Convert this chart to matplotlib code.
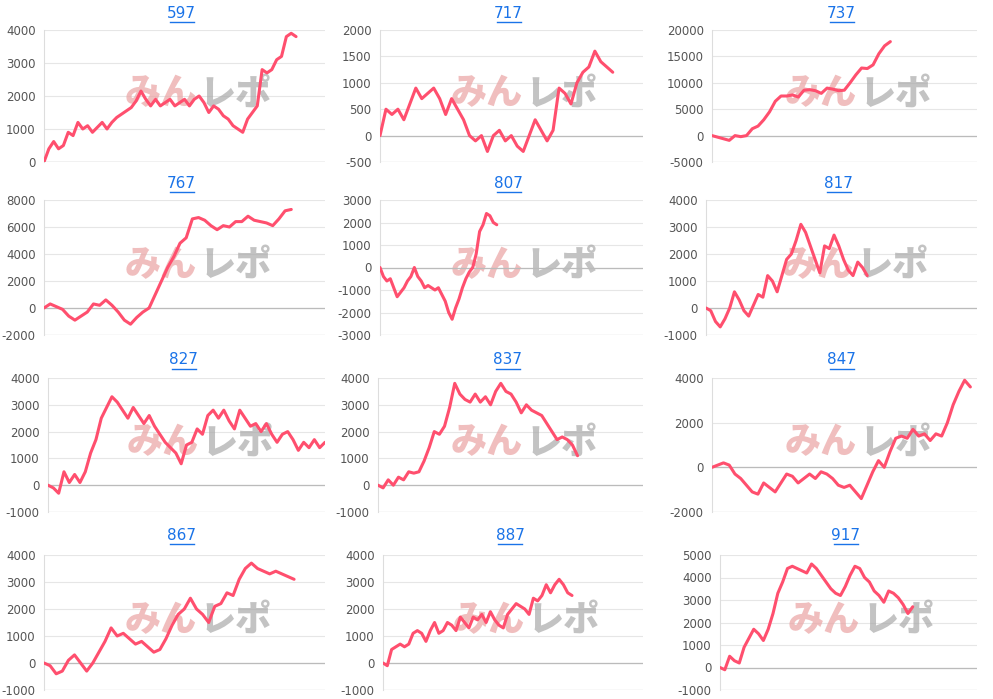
import matplotlib
matplotlib.use("Agg")
import matplotlib.pyplot as plt
from matplotlib.lines import Line2D

titles = ["597", "717", "737", "767", "807", "817", "827", "837", "847", "867", "887", "917"]

s597 = [0, 400, 620, 400, 500, 900, 800, 1200, 1000, 1100, 900, 1050, 1200, 1000, 1200, 1350, 1450, 1550,
        1650, 1850, 2150, 1900, 1700, 1900, 1700, 1800, 1900, 1700, 1800, 1900, 1700, 1900, 2000, 1800, 1500,
        1700, 1600, 1400, 1300, 1100, 1000, 900, 1300, 1500, 1700, 2800, 2700, 2800, 3100, 3200, 3800, 3900, 3800]
s717 = [0, 500, 400, 500, 300, 600, 900, 700, 800, 900, 700, 400, 700, 500, 300, 0, -100, 0, -300, 0, 100,
        -100, 0, -200, -300, 0, 300, 100, -100, 100, 900, 800, 600, 1000, 1200, 1300, 1600, 1400, 1300, 1200]
s737 = [0, -300, -600, -900, 0, -200, 0, 1300, 1800, 3000, 4500, 6500, 7500, 7500, 7700, 7300, 8600, 8700,
        8500, 8000, 9000, 8800, 8500, 8600, 10000, 11500, 12800, 12700, 13400, 15500, 17000, 17800]
s767 = [0, 300, 100, -100, -600, -900, -600, -300, 300, 200, 600, 200, -300, -900, -1200, -700, -300, 0,
        1000, 2000, 3000, 3800, 4800, 5200, 6600, 6700, 6500, 6100, 5800, 6100, 6000, 6400, 6400, 6800, 6500,
        6400, 6300, 6100, 6600, 7200, 7300]
s807 = [0, -400, -600, -500, -900, -1300, -1100, -900, -600, -400, 0, -400, -600, -900, -800, -900, -1000,
        -900, -1200, -1500, -2000, -2300, -1800, -1400, -900, -500, -200, 0, 600, 1600, 1900, 2400, 2300, 2000, 1900]
s817 = [0, -100, -500, -700, -400, 0, 600, 300, -100, -300, 100, 500, 400, 1200, 1000, 600, 1200, 1800, 2000,
        2500, 3100, 2800, 2300, 1800, 1300, 2300, 2200, 2700, 2300, 1800, 1400, 1200, 1700, 1500, 1200]
s827 = [0, -100, -300, 500, 100, 400, 100, 500, 1200, 1700, 2500, 2900, 3300, 3100, 2800, 2500, 2900, 2600,
        2300, 2600, 2200, 1900, 1600, 1400, 1200, 800, 1500, 1600, 2100, 1900, 2600, 2800, 2500, 2800, 2400,
        2100, 2800, 2500, 2200, 2300, 2000, 2300, 1900, 1600, 1900, 2000, 1700, 1300, 1600, 1400, 1700, 1400, 1600]
s837 = [0, -100, 200, 0, 300, 200, 500, 450, 500, 900, 1400, 2000, 1900, 2200, 2900, 3800, 3400, 3200, 3100,
        3400, 3100, 3300, 3000, 3500, 3800, 3500, 3400, 3100, 2700, 3000, 2800, 2700, 2600, 2300, 2000, 1700,
        1800, 1700, 1500, 1100]
s847 = [0, 100, 200, 100, -300, -500, -800, -1100, -1200, -700, -900, -1100, -700, -300, -400, -700, -500,
        -300, -500, -200, -300, -500, -800, -900, -800, -1100, -1400, -800, -200, 300, 0, 700, 1300, 1400, 1300,
        1700, 1400, 1500, 1200, 1500, 1400, 2000, 2800, 3400, 3900, 3600]
s867 = [0, -100, -400, -300, 100, 300, 0, -300, 0, 400, 800, 1300, 1000, 1100, 900, 700, 800, 600, 400, 500,
        900, 1400, 1800, 2000, 2400, 2000, 1800, 1500, 2100, 2200, 2600, 2500, 3100, 3500, 3700, 3500, 3400,
        3300, 3400, 3300, 3200, 3100]
s887 = [0, -100, 500, 600, 700, 600, 700, 1100, 1200, 1100, 800, 1200, 1500, 1100, 1200, 1500, 1400, 1200,
        1700, 1500, 1300, 1700, 1600, 1800, 1500, 1900, 1600, 1400, 1300, 1800, 2000, 2200, 2100, 2000, 1800,
        2400, 2300, 2500, 2900, 2600, 2900, 3100, 2900, 2600, 2500]
s917 = [0, -100, 500, 300, 200, 900, 1300, 1700, 1500, 1200, 1700, 2400, 3300, 3800, 4400, 4500, 4400, 4300,
        4200, 4600, 4400, 4100, 3800, 3500, 3300, 3200, 3600, 4100, 4500, 4400, 4000, 3800, 3400, 3200, 2900,
        3400, 3300, 3100, 2800, 2400, 2700]

series = [s597, s717, s737, s767, s807, s817, s827, s837, s847, s867, s887, s917]
end_frac = [0.897, 0.885, 0.673, 0.88, 0.444, 0.595, 1.0, 0.753, 0.975, 0.89, 0.727, 0.75]
ylims = [(0, 4000, 1000), (-500, 2000, 500), (-5000, 20000, 5000), (-2000, 8000, 2000),
         (-3000, 3000, 1000), (-1000, 4000, 1000), (-1000, 4000, 1000), (-1000, 4000, 1000),
         (-2000, 4000, 2000), (-1000, 4000, 1000), (-1000, 4000, 1000), (-1000, 5000, 1000)]

W, H = 993, 699
fig = plt.figure(figsize=(W / 100, H / 100), dpi=100)
col_lr = [(44, 325), (380, 643), (712, 977)]
lefts = [[44, 380, 712], [44, 380, 706], [48, 378, 712], [44, 383, 720]]
row_tb = [(30, 162), (200, 335), (378, 512), (555, 690)]
title_y = [13, 183, 360, 535]

for i, (t, s) in enumerate(zip(titles, series)):
    r, c = divmod(i, 3)
    l = lefts[r][c]
    rr = col_lr[c][1]
    top, bot = row_tb[r]
    ax = fig.add_axes([l / W, 1 - bot / H, (rr - l) / W, (bot - top) / H])
    x = list(range(len(s)))
    ax.plot(x, s, color="#ff4f6e", lw=2.2, solid_joinstyle="round", solid_capstyle="round", zorder=3)
    ax.set_xlim(0, (len(s) - 1) / end_frac[i])
    lo, hi, st = ylims[i]
    ax.set_ylim(lo, hi)
    ticks = list(range(lo, hi + 1, st))
    ax.set_yticks(ticks)
    ax.set_yticklabels([str(v) for v in ticks], color="#555555", fontsize=8.5)
    ax.set_xticks([])
    ax.tick_params(axis="y", length=0, pad=6)
    for sp in ["top", "right", "bottom"]:
        ax.spines[sp].set_visible(False)
    ax.spines["left"].set_color("#dddddd")
    ax.grid(axis="y", color="#e6e6e6", lw=0.8)
    ax.axhline(0, color="#bbbbbb", lw=0.9, zorder=2)
    ax.axhline(lo, color="#dddddd", lw=0.9, zorder=2)
    ax.set_axisbelow(True)
    ax.text(0.545, 0.52, "みん", transform=ax.transAxes, ha="right", va="center",
            fontsize=26, fontweight="heavy", color="#eaa3a3", alpha=0.7,
            family=["Noto Sans CJK JP", "DejaVu Sans"], zorder=1)
    ax.text(0.555, 0.52, "レポ", transform=ax.transAxes, ha="left", va="center",
            fontsize=26, fontweight="heavy", color="#aaaaaa", alpha=0.7,
            family=["Noto Sans CJK JP", "DejaVu Sans"], zorder=1)
    cx = (l + rr) / 2 - 3
    fig.text(cx / W, 1 - title_y[r] / H, t, ha="center", va="center", fontsize=11, color="#1a73e8")
    fig.add_artist(Line2D([(cx - 12) / W, (cx + 12) / W], [1 - (title_y[r] + 9) / H] * 2,
                          color="#1a73e8", lw=1.0))

fig.savefig("out.png", dpi=100, facecolor="white")
